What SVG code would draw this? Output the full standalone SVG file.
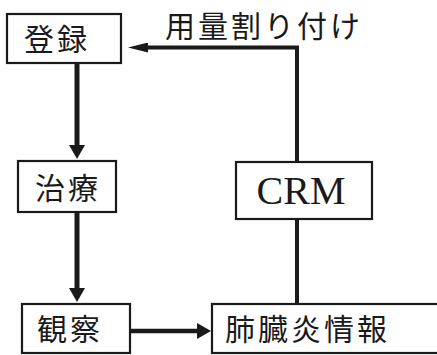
<svg xmlns="http://www.w3.org/2000/svg" width="437" height="355" viewBox="0 0 437 355">
<style>
.box{fill:#fff;stroke:#1a1a1a;stroke-width:2.2}
.jp{font-family:"Noto Sans CJK JP","Noto Sans",sans-serif;font-size:30px;fill:#1a1a1a}
.crm{font-family:"Liberation Serif",serif;font-size:40px;fill:#1a1a1a}
.conn{fill:none;stroke:#1a1a1a}
</style>
<defs>
<marker id="ah" viewBox="0 0 14 16" refX="0" refY="8" markerWidth="14" markerHeight="16" markerUnits="userSpaceOnUse" orient="auto">
<path d="M0,0 L14,8 L0,16 Z" fill="#1a1a1a"/>
</marker>
<marker id="ahs" viewBox="0 0 20 10" refX="0" refY="5" markerWidth="20" markerHeight="10" markerUnits="userSpaceOnUse" orient="auto">
<path d="M0,0 L20,5 L0,10 Z" fill="#1a1a1a"/>
</marker>
</defs>
<rect width="437" height="355" fill="#fff"/>
<g id="connectors">
<line class="conn" x1="77" y1="64" x2="77" y2="145" stroke-width="5" marker-end="url(#ah)"/>
<line class="conn" x1="77" y1="213" x2="77" y2="288" stroke-width="5" marker-end="url(#ah)"/>
<line class="conn" x1="131" y1="331" x2="197" y2="331" stroke-width="4.5" marker-end="url(#ah)"/>
<path class="conn" d="M297,303 V47.5 H148" stroke-width="4" marker-end="url(#ahs)"/>
<text class="jp" x="165" y="37" letter-spacing="3">用量割り付け</text>
</g>
<g id="n_touroku">
<rect class="box" x="7" y="14" width="114" height="49"/>
<text class="jp" x="57" y="50" text-anchor="middle" letter-spacing="3">登録</text>
</g>
<g id="n_chiryo">
<rect class="box" x="18" y="161" width="98" height="51"/>
<text class="jp" x="68" y="199" text-anchor="middle" letter-spacing="3">治療</text>
</g>
<g id="n_kansatsu">
<rect class="box" x="22" y="304" width="108" height="49"/>
<text class="jp" x="70" y="340" text-anchor="middle" letter-spacing="3">観察</text>
</g>
<g id="n_crm">
<rect class="box" x="236" y="162" width="136" height="57"/>
<text class="crm" x="301" y="204" text-anchor="middle">CRM</text>
</g>
<g id="n_haizoen">
<rect class="box" x="212" y="304" width="230" height="49"/>
<text class="jp" x="225" y="340" letter-spacing="3">肺臓炎情報</text>
</g>
</svg>
